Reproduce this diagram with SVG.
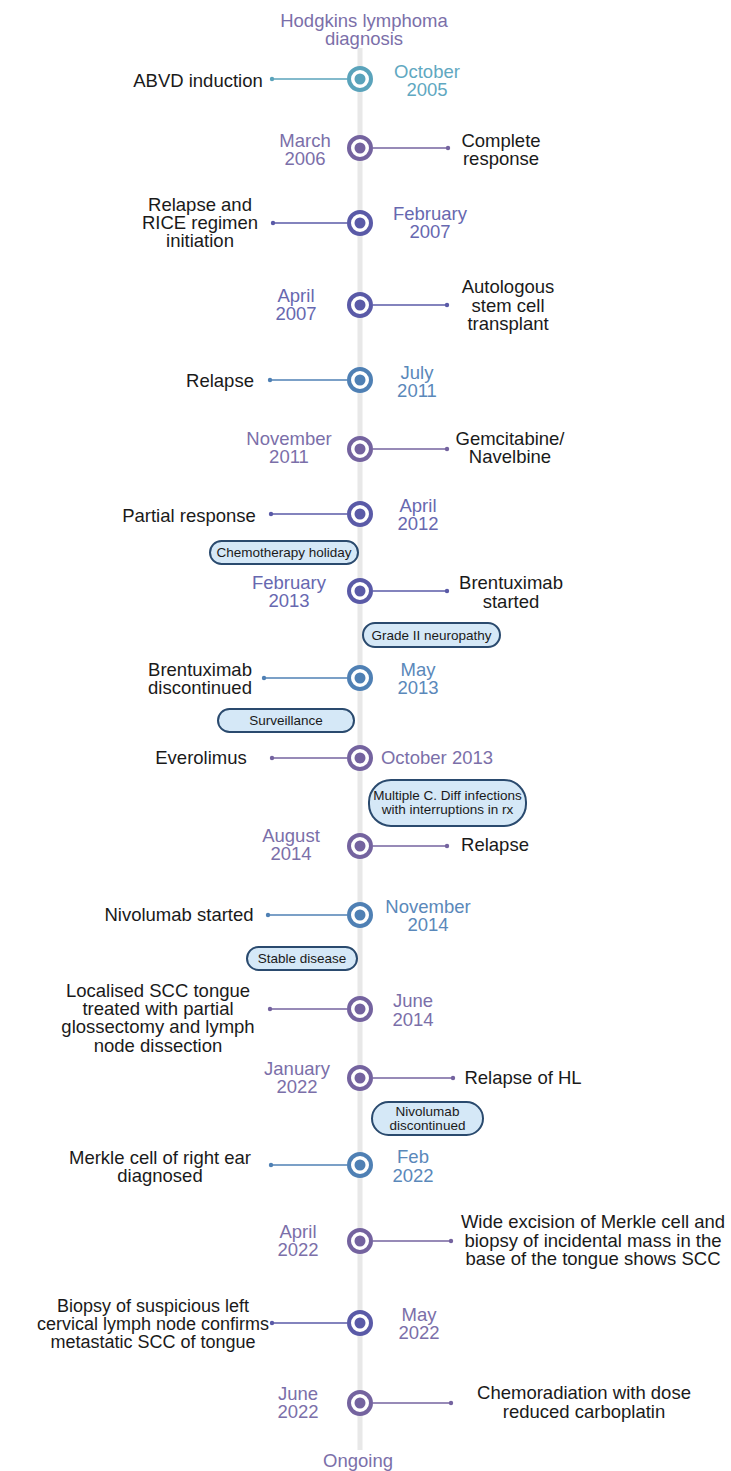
<svg xmlns="http://www.w3.org/2000/svg" width="731" height="1471" viewBox="0 0 731 1471">
<style>
text{font-family:"Liberation Sans",Arial,sans-serif;font-size:18.5px;text-anchor:middle}
.k{fill:#1a1a1a}
.tt{fill:#5fa8c1}.tp{fill:#7b6fa9}.ti{fill:#6768b0}.ts{fill:#5a88ba}
.rt{stroke:#5aa3bb}.rp{stroke:#74639f}.ri{stroke:#5a5aa7}.rs{stroke:#4f80b4}
.ft{fill:#5aa3bb}.fp{fill:#74639f}.fi{fill:#5a5aa7}.fs{fill:#4f80b4}
.ring{fill:#fff;stroke-width:4}
.stub{stroke-width:1.6;fill:none}
.pill{fill:#d5e8f7;stroke:#2a4a6e;stroke-width:2}
.pt{font-size:13.5px;fill:#1a1a1a}
.sm{font-size:18px}
</style>
<g id="connectors">
<line x1="360" y1="48" x2="360" y2="1450" stroke="#e8e8e8" stroke-width="5"/>
<g class="stub">
<line x1="272" y1="79" x2="347" y2="79" class="rt"/>
<line x1="373" y1="148" x2="448" y2="148" class="rp"/>
<line x1="273" y1="223" x2="347" y2="223" class="ri"/>
<line x1="373" y1="305" x2="447" y2="305" class="ri"/>
<line x1="270" y1="380" x2="347" y2="380" class="rs"/>
<line x1="373" y1="449" x2="447" y2="449" class="rp"/>
<line x1="271" y1="514" x2="347" y2="514" class="ri"/>
<line x1="373" y1="591" x2="447" y2="591" class="ri"/>
<line x1="264" y1="678" x2="347" y2="678" class="rs"/>
<line x1="272" y1="758" x2="347" y2="758" class="rp"/>
<line x1="373" y1="846" x2="447" y2="846" class="rp"/>
<line x1="268" y1="915" x2="347" y2="915" class="rs"/>
<line x1="270" y1="1009" x2="347" y2="1009" class="rp"/>
<line x1="373" y1="1078" x2="453" y2="1078" class="rp"/>
<line x1="271" y1="1165" x2="347" y2="1165" class="rs"/>
<line x1="373" y1="1241" x2="451" y2="1241" class="rp"/>
<line x1="272" y1="1323" x2="347" y2="1323" class="ri"/>
<line x1="373" y1="1403" x2="451" y2="1403" class="rp"/>
</g>
<circle cx="272" cy="79" r="2.2" class="ft"/>
<circle cx="448" cy="148" r="2.2" class="fp"/>
<circle cx="273" cy="223" r="2.2" class="fi"/>
<circle cx="447" cy="305" r="2.2" class="fi"/>
<circle cx="270" cy="380" r="2.2" class="fs"/>
<circle cx="447" cy="449" r="2.2" class="fp"/>
<circle cx="271" cy="514" r="2.2" class="fi"/>
<circle cx="447" cy="591" r="2.2" class="fi"/>
<circle cx="264" cy="678" r="2.2" class="fs"/>
<circle cx="272" cy="758" r="2.2" class="fp"/>
<circle cx="447" cy="846" r="2.2" class="fp"/>
<circle cx="268" cy="915" r="2.2" class="fs"/>
<circle cx="270" cy="1009" r="2.2" class="fp"/>
<circle cx="453" cy="1078" r="2.2" class="fp"/>
<circle cx="271" cy="1165" r="2.2" class="fs"/>
<circle cx="451" cy="1241" r="2.2" class="fp"/>
<circle cx="272" cy="1323" r="2.2" class="fi"/>
<circle cx="451" cy="1403" r="2.2" class="fp"/>
</g>

<g id="title"><text x="364" y="27" class="tp">Hodgkins lymphoma</text><text x="364" y="45" class="tp">diagnosis</text></g>

<g id="n1"><circle cx="360" cy="79" r="11" class="ring rt"/><circle cx="360" cy="79" r="5.5" class="ft"/>
<text x="427" y="78" class="tt">October</text><text x="427" y="96" class="tt">2005</text>
<text x="198" y="87" class="k">ABVD induction</text></g>

<g id="n2"><circle cx="360" cy="148" r="11" class="ring rp"/><circle cx="360" cy="148" r="5.5" class="fp"/>
<text x="305" y="147" class="tp">March</text><text x="305" y="165" class="tp">2006</text>
<text x="501" y="147" class="k">Complete</text><text x="501" y="165" class="k">response</text></g>

<g id="n3"><circle cx="360" cy="223" r="11" class="ring ri"/><circle cx="360" cy="223" r="5.5" class="fi"/>
<text x="430" y="220" class="ti">February</text><text x="430" y="238" class="ti">2007</text>
<text x="200" y="211" class="k">Relapse and</text><text x="200" y="229" class="k">RICE regimen</text><text x="200" y="247" class="k">initiation</text></g>

<g id="n4"><circle cx="360" cy="305" r="11" class="ring ri"/><circle cx="360" cy="305" r="5.5" class="fi"/>
<text x="296" y="302" class="ti">April</text><text x="296" y="320" class="ti">2007</text>
<text x="508" y="293" class="k">Autologous</text><text x="508" y="312" class="k">stem cell</text><text x="508" y="330" class="k">transplant</text></g>

<g id="n5"><circle cx="360" cy="380" r="11" class="ring rs"/><circle cx="360" cy="380" r="5.5" class="fs"/>
<text x="417" y="379" class="ts">July</text><text x="417" y="397" class="ts">2011</text>
<text x="220" y="387" class="k">Relapse</text></g>

<g id="n6"><circle cx="360" cy="449" r="11" class="ring rp"/><circle cx="360" cy="449" r="5.5" class="fp"/>
<text x="289" y="445" class="tp">November</text><text x="289" y="463" class="tp">2011</text>
<text x="510" y="445" class="k">Gemcitabine/</text><text x="510" y="463" class="k">Navelbine</text></g>

<g id="n7"><circle cx="360" cy="514" r="11" class="ring ri"/><circle cx="360" cy="514" r="5.5" class="fi"/>
<text x="418" y="512" class="ti">April</text><text x="418" y="530" class="ti">2012</text>
<text x="189" y="522" class="k">Partial response</text></g>

<g id="p1"><rect x="210" y="541" width="148" height="23" rx="11.5" class="pill"/><text x="284" y="557" class="pt">Chemotherapy holiday</text></g>

<g id="n8"><circle cx="360" cy="591" r="11" class="ring ri"/><circle cx="360" cy="591" r="5.5" class="fi"/>
<text x="289" y="589" class="ti">February</text><text x="289" y="607" class="ti">2013</text>
<text x="511" y="589" class="k">Brentuximab</text><text x="511" y="608" class="k">started</text></g>

<g id="p2"><rect x="363" y="623" width="137" height="24" rx="12" class="pill"/><text x="431.5" y="639.5" class="pt">Grade II neuropathy</text></g>

<g id="n9"><circle cx="360" cy="678" r="11" class="ring rs"/><circle cx="360" cy="678" r="5.5" class="fs"/>
<text x="418" y="676" class="ts">May</text><text x="418" y="694" class="ts">2013</text>
<text x="200" y="676" class="k">Brentuximab</text><text x="200" y="694" class="k">discontinued</text></g>

<g id="p3"><rect x="218" y="709" width="136" height="23" rx="11.5" class="pill"/><text x="286" y="725" class="pt">Surveillance</text></g>

<g id="n10"><circle cx="360" cy="758" r="11" class="ring rp"/><circle cx="360" cy="758" r="5.5" class="fp"/>
<text x="437" y="764" class="tp">October 2013</text>
<text x="201" y="764" class="k">Everolimus</text></g>

<g id="p4"><rect x="369" y="780" width="157" height="46" rx="22" class="pill"/><text x="447.5" y="800" class="pt">Multiple C. Diff infections</text><text x="447.5" y="814" class="pt">with interruptions in rx</text></g>

<g id="n11"><circle cx="360" cy="846" r="11" class="ring rp"/><circle cx="360" cy="846" r="5.5" class="fp"/>
<text x="291" y="842" class="tp">August</text><text x="291" y="860" class="tp">2014</text>
<text x="495" y="851" class="k">Relapse</text></g>

<g id="n12"><circle cx="360" cy="915" r="11" class="ring rs"/><circle cx="360" cy="915" r="5.5" class="fs"/>
<text x="428" y="913" class="ts">November</text><text x="428" y="931" class="ts">2014</text>
<text x="179" y="921" class="k">Nivolumab started</text></g>

<g id="p5"><rect x="247" y="947" width="110" height="23" rx="11.5" class="pill"/><text x="302" y="963" class="pt">Stable disease</text></g>

<g id="n13"><circle cx="360" cy="1009" r="11" class="ring rp"/><circle cx="360" cy="1009" r="5.5" class="fp"/>
<text x="413" y="1007" class="tp">June</text><text x="413" y="1026" class="tp">2014</text>
<text x="158" y="997" class="k">Localised SCC tongue</text><text x="158" y="1015" class="k">treated with partial</text><text x="158" y="1033" class="k">glossectomy and lymph</text><text x="158" y="1052" class="k">node dissection</text></g>

<g id="n14"><circle cx="360" cy="1078" r="11" class="ring rp"/><circle cx="360" cy="1078" r="5.5" class="fp"/>
<text x="297" y="1075" class="tp">January</text><text x="297" y="1093" class="tp">2022</text>
<text x="523" y="1084" class="k">Relapse of HL</text></g>

<g id="p6"><rect x="372" y="1102" width="111" height="33" rx="16.5" class="pill"/><text x="427.5" y="1116" class="pt">Nivolumab</text><text x="427.5" y="1130" class="pt">discontinued</text></g>

<g id="n15"><circle cx="360" cy="1165" r="11" class="ring rs"/><circle cx="360" cy="1165" r="5.5" class="fs"/>
<text x="413" y="1163" class="ts">Feb</text><text x="413" y="1182" class="ts">2022</text>
<text x="160" y="1164" class="k">Merkle cell of right ear</text><text x="160" y="1182" class="k">diagnosed</text></g>

<g id="n16"><circle cx="360" cy="1241" r="11" class="ring rp"/><circle cx="360" cy="1241" r="5.5" class="fp"/>
<text x="298" y="1238" class="tp">April</text><text x="298" y="1256" class="tp">2022</text>
<text x="593" y="1228" class="k">Wide excision of Merkle cell and</text><text x="593" y="1247" class="k">biopsy of incidental mass in the</text><text x="593" y="1265" class="k">base of the tongue shows SCC</text></g>

<g id="n17"><circle cx="360" cy="1323" r="11" class="ring ri"/><circle cx="360" cy="1323" r="5.5" class="fi"/>
<text x="419" y="1321" class="tp">May</text><text x="419" y="1339" class="tp">2022</text>
<text x="153" y="1312" class="k sm">Biopsy of suspicious left</text><text x="153" y="1330" class="k sm">cervical lymph node confirms</text><text x="153" y="1348" class="k sm">metastatic SCC of tongue</text></g>

<g id="n18"><circle cx="360" cy="1403" r="11" class="ring rp"/><circle cx="360" cy="1403" r="5.5" class="fp"/>
<text x="298" y="1400" class="tp">June</text><text x="298" y="1418" class="tp">2022</text>
<text x="584" y="1399" class="k">Chemoradiation with dose</text><text x="584" y="1418" class="k">reduced carboplatin</text></g>

<g id="end"><text x="358" y="1467" class="tp">Ongoing</text></g>
</svg>
